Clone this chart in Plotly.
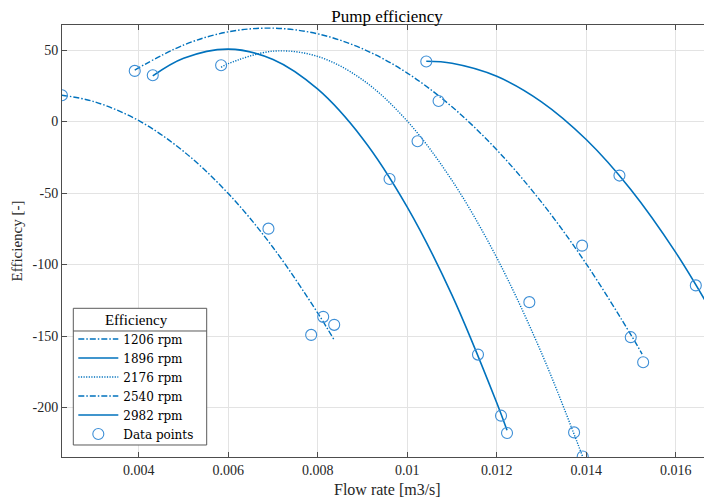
import plotly.graph_objects as go

# ---- fitted curves ----
flow_1206 = [0.00228, 0.003, 0.004, 0.005, 0.006, 0.007, 0.008, 0.00837]
eff_1206 = [18.4, 13.9, 0.6, -20.9, -50.4, -88.1, -134.0, -153.0]

flow_1896 = [0.004311, 0.005, 0.006, 0.007, 0.008, 0.009, 0.010, 0.011, 0.012, 0.01223]
eff_1896 = [31.9, 44.2, 50.6, 43.4, 22.6, -11.8, -59.8, -121.4, -196.7, -215.9]

flow_2176 = [0.005839, 0.006, 0.007, 0.008, 0.009, 0.010, 0.011, 0.012, 0.013, 0.01392]
eff_2176 = [37.9, 40.5, 49.2, 45.5, 29.2, 0.3, -41.2, -95.2, -161.8, -234.3]

flow_2540 = [0.003908, 0.005, 0.006, 0.007, 0.008, 0.009, 0.010, 0.011, 0.012, 0.013, 0.014, 0.015, 0.01525]
eff_2540 = [36.0, 53.5, 62.7, 65.3, 61.3, 50.9, 33.9, 10.3, -19.8, -56.4, -99.5, -149.2, -162.7]

flow_2982 = [0.010425, 0.011, 0.012, 0.013, 0.014, 0.015, 0.016, 0.016816]
eff_2982 = [42.1, 40.7, 31.6, 13.8, -12.6, -47.7, -91.5, -133.6]

# ---- measured data points ----
pts_flow_1206 = [0.00228, 0.006897, 0.007852, 0.008121, 0.008367]
pts_eff_1206 = [18.4, -74.9, -149.2, -136.6, -142.2]
pts_flow_1896 = [0.004311, 0.009604, 0.011581, 0.012096, 0.01223]
pts_eff_1896 = [32.4, -40.2, -163.0, -205.7, -217.8]
pts_flow_2176 = [0.005839, 0.01023, 0.012729, 0.013729, 0.013922]
pts_eff_2176 = [39.4, -13.8, -126.3, -217.4, -234.2]
pts_flow_2540 = [0.003908, 0.0107, 0.013908, 0.014996, 0.015273]
pts_eff_2540 = [35.4, 14.4, -86.8, -150.8, -168.3]
pts_flow_2982 = [0.010425, 0.014743, 0.01645, 0.016816]
pts_eff_2982 = [42.0, -37.8, -114.6, -133.3]

x_ticks = [0.004, 0.006, 0.008, 0.01, 0.012, 0.014, 0.016]
x_tick_labels = ["0.004", "0.006", "0.008", "0.01", "0.012", "0.014", "0.016"]
y_ticks = [-200, -150, -100, -50, 0, 50]
y_tick_labels = ["-200", "-150", "-100", "-50", "0", "50"]

LINE = "#0072BD"
MARK = "#3E8FD6"
FONT = "Liberation Serif"
LEG_FONT = "DejaVu Serif"
DASHDOT = "6px,2px,1.5px,2px"
DOT = "1.2px,1.4px"

curves = [
    ("1206 rpm", flow_1206, eff_1206, DASHDOT, 1.4),
    ("1896 rpm", flow_1896, eff_1896, "solid", 1.6),
    ("2176 rpm", flow_2176, eff_2176, DOT, 1.4),
    ("2540 rpm", flow_2540, eff_2540, DASHDOT, 1.4),
    ("2982 rpm", flow_2982, eff_2982, "solid", 1.6),
]

fig = go.Figure()
for name, fx, fy, dash, w in curves:
    fig.add_trace(go.Scatter(
        x=fx, y=fy, mode="lines", name=name,
        line=dict(color=LINE, width=w, dash=dash, shape="spline", smoothing=1.0),
    ))

all_px = pts_flow_1206 + pts_flow_1896 + pts_flow_2176 + pts_flow_2540 + pts_flow_2982
all_py = pts_eff_1206 + pts_eff_1896 + pts_eff_2176 + pts_eff_2540 + pts_eff_2982
fig.add_trace(go.Scatter(
    x=all_px, y=all_py, mode="markers", name="Data points",
    marker=dict(symbol="circle-open", size=11, color=MARK, line=dict(width=1.1, color=MARK)),
    cliponaxis=True,
))

axis_common = dict(
    showline=True, linecolor="#4d4d4d", linewidth=1, mirror="ticks",
    ticks="inside", ticklen=5, tickcolor="#4d4d4d", tickwidth=1,
    showgrid=True, gridcolor="#e3e3e3", gridwidth=1, zeroline=False,
    automargin=False,
    tickfont=dict(family=FONT, size=14, color="#262626"),
)

# legend frame (drawn as shapes so a separator under the title is possible)
LX0, LX1, LYT, LYB, LSEP = 0.0174, 0.2226, 0.3442, 0.0278, 0.2917

# page has an 8px body margin, so the figure is sized/offset to compensate
fig.update_layout(
    width=704, height=495,
    margin=dict(l=54, r=0, t=17, b=46, autoexpand=False),
    paper_bgcolor="white", plot_bgcolor="white",
    title=dict(text="Pump efficiency", x=0.5, xanchor="center", y=0.984, yanchor="middle",
               xref="paper", font=dict(family=FONT, size=17, color="#000000")),
    xaxis=dict(range=[0.002282, 0.016812], tickvals=x_ticks, ticktext=x_tick_labels, **axis_common),
    yaxis=dict(range=[-234.6, 67.5], tickvals=y_ticks, ticktext=y_tick_labels, **axis_common),
    legend=dict(
        x=LX0, y=0.0185, xanchor="left", yanchor="bottom",
        bgcolor="rgba(0,0,0,0)", borderwidth=0,
        font=dict(family=LEG_FONT, size=12, color="#000000"),
        title=dict(text="Efficiency", side="top center", font=dict(family=FONT, size=15, color="#000000")),
        tracegroupgap=0, itemwidth=40,
    ),
    showlegend=True,
    shapes=[
        dict(type="rect", xref="paper", yref="paper", x0=LX0, x1=LX1, y0=LYB, y1=LYT,
             fillcolor="white", line=dict(color="#5a5a5a", width=1), layer="above"),
        dict(type="line", xref="paper", yref="paper", x0=LX0, x1=LX1, y0=LSEP, y1=LSEP,
             line=dict(color="#5a5a5a", width=1), layer="above"),
    ],
    annotations=[
        dict(text="Flow rate [m3/s]", xref="paper", yref="paper", x=0.5, y=-0.076,
             xanchor="center", yanchor="middle", showarrow=False,
             font=dict(family=FONT, size=16, color="#262626")),
        dict(text="Efficiency [-]", xref="paper", yref="paper", x=-0.0685, y=0.5, textangle=-90,
             xanchor="center", yanchor="middle", showarrow=False,
             font=dict(family=FONT, size=15, color="#262626")),
    ],
)

fig.write_html("out.html")
